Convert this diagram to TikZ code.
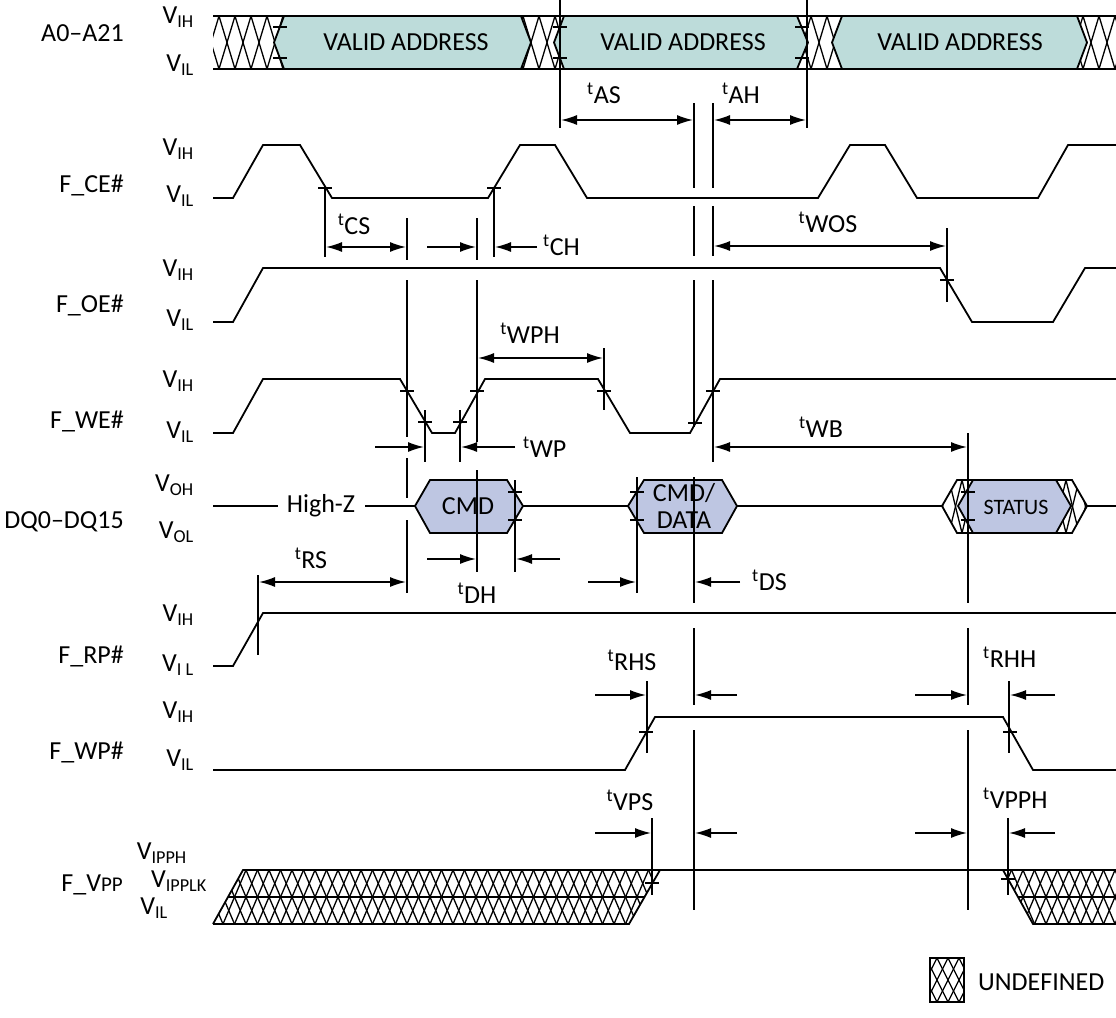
\documentclass[tikz,border=0pt]{standalone}
\usepackage{fontspec}
\setmainfont{Carlito}
\usetikzlibrary{arrows.meta,positioning,calc}

\definecolor{addrteal}{RGB}{189,220,218}
\definecolor{cmdblue}{RGB}{190,198,226}

% crossed hatch: x list, step, top y, bottom y
\newcommand{\xhatch}[4]{%
  \foreach \hx in {#1}{
    \draw[hatchline] (\hx,#3) -- ({\hx+#2},#4);
    \draw[hatchline] ({\hx+#2},#3) -- (\hx,#4);
  }}
% short level tick at a crossing
\newcommand{\tickat}[2]{\draw[tickmark] ({#1-7},#2) -- ({#1+7},#2);}

\begin{document}
\begin{tikzpicture}[x=1pt,y=-1pt,
    every node/.style={font=\fontsize{26}{28}\selectfont, inner sep=0pt},
    wave/.style={line width=1.8pt, line join=miter},
    hatchline/.style={line width=1.3pt},
    refline/.style={line width=1.4pt},
    tickmark/.style={line width=1.4pt},
    dimarrow/.style={line width=1.5pt, -{Latex[length=16pt,width=10pt]}},
    dimboth/.style={line width=1.5pt, {Latex[length=16pt,width=10pt]}-{Latex[length=16pt,width=10pt]}}]

\useasboundingbox (0,0) rectangle (1116,1017);

% signal names
\node[anchor=east] (nameA) at (124,33) {A0--A21};
\node[anchor=east] (nameCE) at (124,185) {F\_CE\#};
\node[anchor=east] (nameOE) at (124,305) {F\_OE\#};
\node[anchor=east] (nameWE) at (124,421) {F\_WE\#};
\node[anchor=east] (nameDQ) at (124,522) {DQ0--DQ15};
\node[anchor=east] (nameRP) at (124,656) {F\_RP\#};
\node[anchor=east] (nameWP) at (124,752) {F\_WP\#};
\node[anchor=east] (nameVPP) at (123,885) {F\_V{\fontsize{21}{24}\selectfont PP}};

% level names
\node[anchor=east] (aih) at (194,17) {V\textsubscript{IH}};
\node[anchor=east] (ail) at (194,65) {V\textsubscript{IL}};
\node[anchor=east] (ceih) at (194,149) {V\textsubscript{IH}};
\node[anchor=east] (ceil) at (194,196) {V\textsubscript{IL}};
\node[anchor=east] (oeih) at (194,270) {V\textsubscript{IH}};
\node[anchor=east] (oeil) at (194,320) {V\textsubscript{IL}};
\node[anchor=east] (weih) at (194,381) {V\textsubscript{IH}};
\node[anchor=east] (weil) at (194,432) {V\textsubscript{IL}};
\node[anchor=east] (dqoh) at (194,485) {V\textsubscript{OH}};
\node[anchor=east] (dqol) at (194,532) {V\textsubscript{OL}};
\node[anchor=east] (rpih) at (194,615) {V\textsubscript{IH}};
\node[anchor=east] (rpil) at (194,665) {V\textsubscript{I L}};
\node[anchor=east] (wpih) at (194,712) {V\textsubscript{IH}};
\node[anchor=east] (wpil) at (194,760) {V\textsubscript{IL}};
\node[anchor=east] (vpph) at (187,853) {V\textsubscript{IPPH}};
\node[anchor=east] (vpplk) at (207,881) {V\textsubscript{IPPLK}};
\node[anchor=east] (vppil) at (168,908) {V\textsubscript{IL}};

% address bus
\begin{scope}
  \clip (213,16) rectangle (1116,69);
  \xhatch{203,219,...,1116}{16}{16}{69}
\end{scope}
\draw[wave] (213,16) -- (1116,16) (213,69) -- (1116,69);
\draw[wave, fill=addrteal] (284,16) -- (521,16) -- (531,42.5) -- (521,69) -- (284,69) -- (274,42.5) -- cycle;
\draw[wave, fill=addrteal] (564,16) -- (797,16) -- (808,42.5) -- (797,69) -- (564,69) -- (554,42.5) -- cycle;
\draw[wave, fill=addrteal] (842,16) -- (1077,16) -- (1087,42.5) -- (1077,69) -- (842,69) -- (832,42.5) -- cycle;
\node (addr1) at (406,42) {VALID ADDRESS};
\node (addr2) at (683,42) {VALID ADDRESS};
\node (addr3) at (960,42) {VALID ADDRESS};
\foreach \x in {280,560,802} {\tickat{\x}{27} \tickat{\x}{58}}

% F_CE#
\draw[wave] (213,198) -- (233,198) -- (263,145) -- (300,145) -- (332,198) -- (488,198) -- (520,145)
  -- (555,145) -- (587,198) -- (818,198) -- (850,145) -- (885,145) -- (917,198) -- (1038,198)
  -- (1068,145) -- (1116,145);
\tickat{325}{188} \tickat{494}{188}

% F_OE#
\draw[wave] (213,322) -- (233,322) -- (263,268) -- (940,268) -- (972,322) -- (1053,322) -- (1085,268) -- (1116,268);
\tickat{947}{280}

% F_WE#
\draw[wave] (213,433) -- (233,433) -- (263,379) -- (400,379) -- (432,433) -- (455,433) -- (485,379)
  -- (598,379) -- (630,433) -- (690,433) -- (720,379) -- (1116,379);
\foreach \x/\y in {407/391, 425/422, 460/422, 477/391, 604/391, 695/423, 713/391} {\tickat{\x}{\y}}

% DQ0-DQ15
\draw[wave] (213,506) -- (278,506) (365,506) -- (415,506);
\node (highz) at (321,506) {High-Z};
\draw[wave, fill=cmdblue] (415,506) -- (430,480) -- (507,480) -- (523,506) -- (507,533) -- (430,533) -- cycle;
\node (cmd) at (468,506) {CMD};
\draw[wave] (523,506) -- (628,506);
\draw[wave, fill=cmdblue] (628,506) -- (644,480) -- (722,480) -- (737,506) -- (722,533) -- (644,533) -- cycle;
\node[align=center, font=\fontsize{26}{27}\selectfont] (cmddata) at (684,506) {CMD/\\DATA};
\draw[wave] (737,506) -- (942,506);
\begin{scope}
  \clip (942,506) -- (957,480) -- (1072,480) -- (1087,506) -- (1072,533) -- (957,533) -- cycle;
  \xhatch{936,949,...,1090}{13}{480}{533}
\end{scope}
\draw[wave] (942,506) -- (957,480) -- (1072,480) -- (1087,506) -- (1072,533) -- (957,533) -- cycle;
\draw[wave, fill=cmdblue] (958,506) -- (973,480) -- (1056,480) -- (1071,506) -- (1056,533) -- (973,533) -- cycle;
\node[font=\fontsize{22}{24}\selectfont] (status) at (1016,507) {STATUS};
\draw[wave] (1087,506) -- (1116,506);
\foreach \x in {515,637,968} {\tickat{\x}{492} \tickat{\x}{520}}

% F_RP#
\draw[wave] (213,666) -- (233,666) -- (263,613) -- (1116,613);

% F_WP#
\draw[wave] (213,770) -- (625,770) -- (655,717) -- (1003,717) -- (1033,770) -- (1116,770);
\tickat{646}{732} \tickat{1010}{732}

% F_VPP
\begin{scope}
  \clip (213,924) -- (243,870) -- (660,870) -- (629,924) -- cycle;
  \xhatch{200,211.5,...,670}{11.5}{870}{897}
  \xhatch{200,211.5,...,670}{11.5}{897}{924}
\end{scope}
\draw[wave] (213,924) -- (243,870) -- (1003,870) -- (1033,924) -- (1116,924);
\draw[wave] (213,924) -- (629,924) -- (660,870);
\draw[wave] (228,897) -- (645,897);
\begin{scope}
  \clip (1003,870) -- (1116,870) -- (1116,924) -- (1033,924) -- cycle;
  \xhatch{1000,1011.5,...,1120}{11.5}{870}{897}
  \xhatch{1000,1011.5,...,1120}{11.5}{897}{924}
\end{scope}
\draw[wave] (1003,870) -- (1116,870) (1018,897) -- (1116,897);
\tickat{652}{883} \tickat{1008}{879}

% reference lines
\draw[refline] (560,0) -- (560,128);
\draw[refline] (807,0) -- (807,128);
\foreach \ya/\yb in {103/188, 206/256, 280/427, 477/603, 628/705, 730/910}
  \draw[refline] (694,\ya) -- (694,\yb);
\foreach \ya/\yb in {103/188, 206/256, 280/462}
  \draw[refline] (713,\ya) -- (713,\yb);
\foreach \ya/\yb in {218/260, 280/437, 458/498, 520/593}
  \draw[refline] (407,\ya) -- (407,\yb);
\foreach \ya/\yb in {218/260, 280/442, 470/572}
  \draw[refline] (477,\ya) -- (477,\yb);
\foreach \ya/\yb in {433/603, 628/705, 730/910}
  \draw[refline] (968,\ya) -- (968,\yb);
\draw[refline] (325,188) -- (325,257);
\draw[refline] (494,188) -- (494,257);
\draw[refline] (947,228) -- (947,302);
\draw[refline] (425,410) -- (425,462);
\draw[refline] (460,410) -- (460,462);
\draw[refline] (604,348) -- (604,410);
\draw[refline] (515,480) -- (515,572);
\draw[refline] (637,477) -- (637,593);
\draw[refline] (258,575) -- (258,655);
\draw[refline] (647,681) -- (647,753);
\draw[refline] (1009,681) -- (1009,753);
\draw[refline] (652,818) -- (652,895);
\draw[refline] (1008,818) -- (1008,895);

% timing arrows and names
\draw[dimboth] (561,120) -- (693,120);
\node (tAS) at (604,93) {\textsuperscript{t}AS};
\draw[dimboth] (714,120) -- (806,120);
\node (tAH) at (741,93) {\textsuperscript{t}AH};

\draw[dimboth] (326,247) -- (406,247);
\node (tCS) at (354,224) {\textsuperscript{t}CS};
\draw[dimarrow] (427,247) -- (476,247);
\draw[dimarrow] (537,247) -- (495,247);
\node[anchor=west] (tCH) at (543,245) {\textsuperscript{t}CH};

\draw[dimboth] (714,246) -- (946,246);
\node (tWOS) at (828,222) {\textsuperscript{t}WOS};

\draw[dimboth] (478,358) -- (603,358);
\node (tWPH) at (530,333) {\textsuperscript{t}WPH};

\draw[dimarrow] (375,447) -- (424,447);
\draw[dimarrow] (515,447) -- (461,447);
\node[anchor=west] (tWP) at (523,447) {\textsuperscript{t}WP};

\draw[dimboth] (714,447) -- (967,447);
\node (tWB) at (821,427) {\textsuperscript{t}WB};

\draw[dimarrow] (427,559) -- (476,559);
\draw[dimarrow] (560,559) -- (516,559);
\node (tDH) at (477,593) {\textsuperscript{t}DH};

\draw[dimboth] (259,582) -- (406,582);
\node (tRS) at (311,558) {\textsuperscript{t}RS};

\draw[dimarrow] (588,582) -- (636,582);
\draw[dimarrow] (740,582) -- (695,582);
\node[anchor=west] (tDS) at (752,580) {\textsuperscript{t}DS};

\draw[dimarrow] (595,695) -- (646,695);
\draw[dimarrow] (737,695) -- (695,695);
\node (tRHS) at (632,660) {\textsuperscript{t}RHS};
\draw[dimarrow] (915,695) -- (967,695);
\draw[dimarrow] (1055,695) -- (1010,695);
\node[anchor=west] (tRHH) at (983,657) {\textsuperscript{t}RHH};

\draw[dimarrow] (595,833) -- (651,833);
\draw[dimarrow] (737,833) -- (695,833);
\node (tVPS) at (630,800) {\textsuperscript{t}VPS};
\draw[dimarrow] (915,833) -- (967,833);
\draw[dimarrow] (1055,833) -- (1009,833);
\node[anchor=west] (tVPPH) at (983,798) {\textsuperscript{t}VPPH};

% legend
\begin{scope}
  \clip (930,958) rectangle (964,1002);
  \xhatch{926,937,...,970}{11}{958}{980}
  \xhatch{926,937,...,970}{11}{980}{1002}
\end{scope}
\draw[wave] (930,958) rectangle (964,1002);
\node[anchor=west] (undef) at (978,982) {UNDEFINED};

\end{tikzpicture}
\end{document}
